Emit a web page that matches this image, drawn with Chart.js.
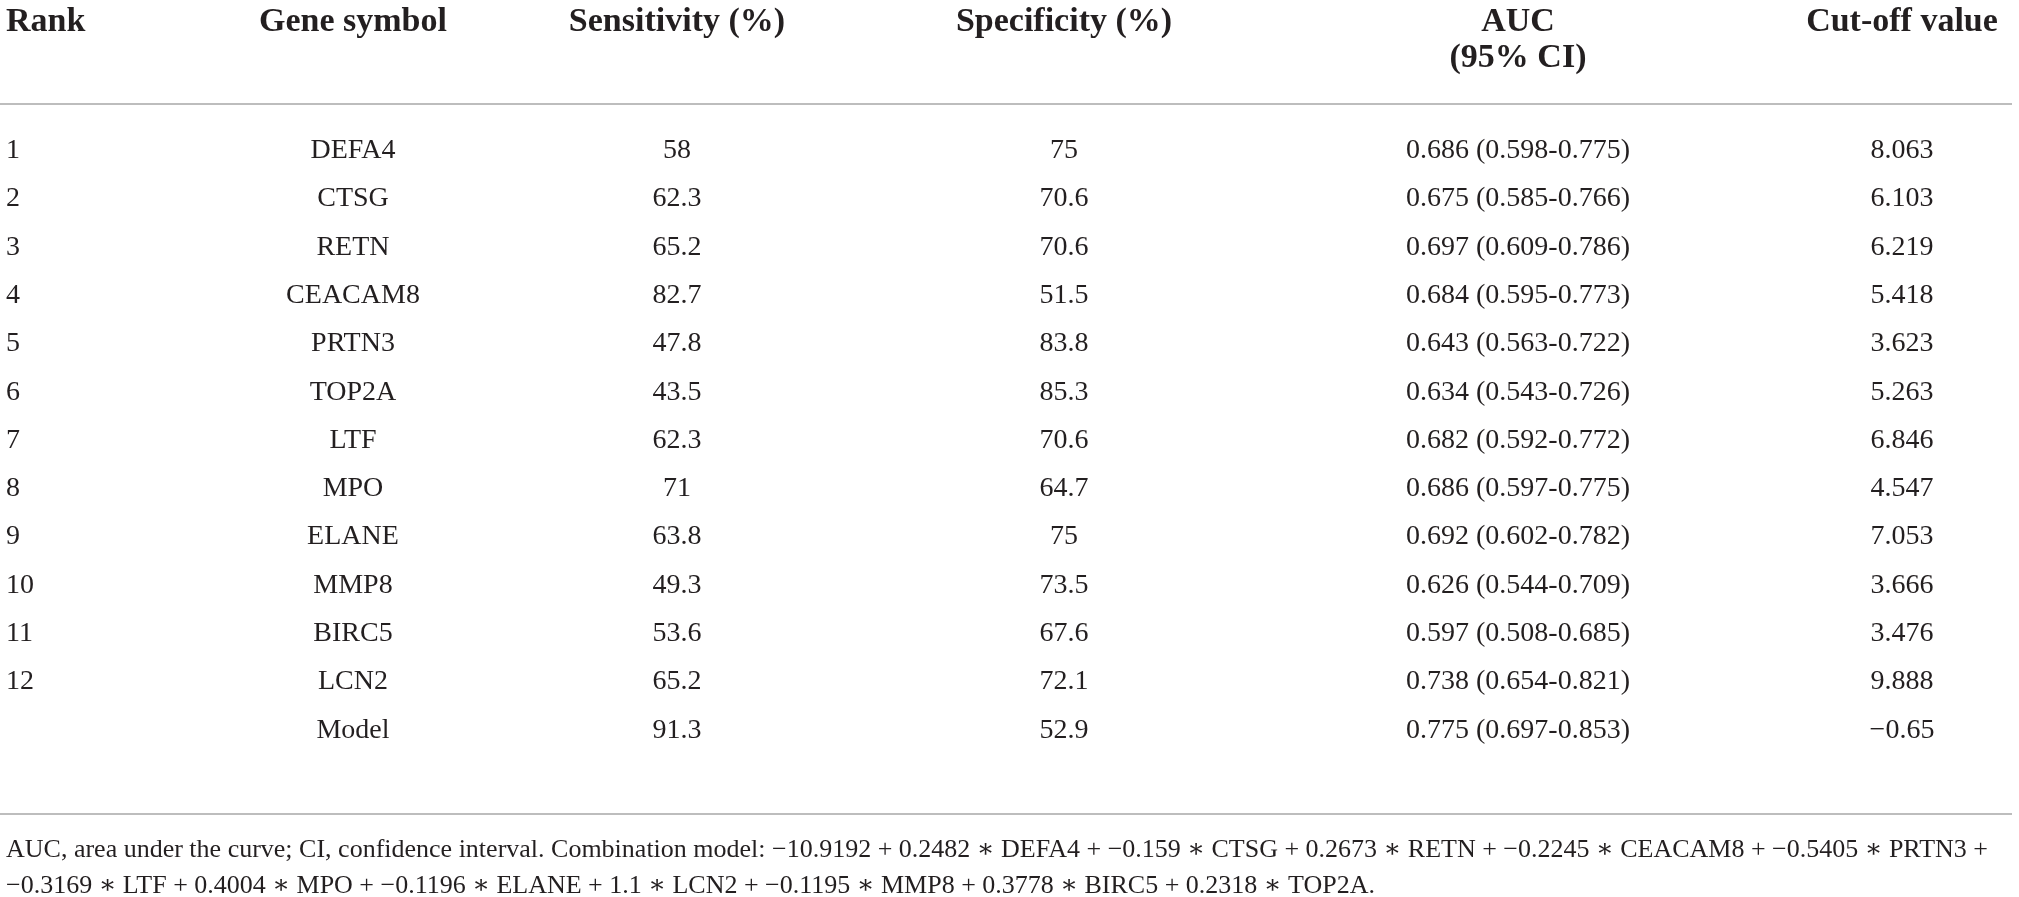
<!DOCTYPE html>
<html>
<head>
<meta charset="utf-8">
<script src="https://cdn.jsdelivr.net/npm/chart.js@4.4.1/dist/chart.umd.min.js"></script>
<style>
  html, body { margin: 0; padding: 0; background: #fff; }
  #wrap { width: 2019px; height: 897px; position: relative; }
</style>
</head>
<body>
<div id="wrap"><canvas id="tableChart"></canvas></div>
<script>
// table values
const ranks = ["1", "2", "3", "4", "5", "6", "7", "8", "9", "10", "11", "12", ""];
const genes = ["DEFA4", "CTSG", "RETN", "CEACAM8", "PRTN3", "TOP2A", "LTF", "MPO", "ELANE", "MMP8", "BIRC5", "LCN2", "Model"];
const sensitivity = [58, 62.3, 65.2, 82.7, 47.8, 43.5, 62.3, 71, 63.8, 49.3, 53.6, 65.2, 91.3];
const specificity = [75, 70.6, 70.6, 51.5, 83.8, 85.3, 70.6, 64.7, 75, 73.5, 67.6, 72.1, 52.9];
const auc = [0.686, 0.675, 0.697, 0.684, 0.643, 0.634, 0.682, 0.686, 0.692, 0.626, 0.597, 0.738, 0.775];
const aucLow = [0.598, 0.585, 0.609, 0.595, 0.563, 0.543, 0.592, 0.597, 0.602, 0.544, 0.508, 0.654, 0.697];
const aucHigh = [0.775, 0.766, 0.786, 0.773, 0.722, 0.726, 0.772, 0.775, 0.782, 0.709, 0.685, 0.821, 0.853];
const cutoff = [8.063, 6.103, 6.219, 5.418, 3.623, 5.263, 6.846, 4.547, 7.053, 3.666, 3.476, 9.888, -0.65];

const headers = [["Rank"], ["Gene symbol"], ["Sensitivity (%)"], ["Specificity (%)"], ["AUC", "(95% CI)"], ["Cut-off value"]];
const footnotes = [
  "AUC, area under the curve; CI, confidence interval. Combination model: \u221210.9192 + 0.2482 \u2217 DEFA4 + \u22120.159 \u2217 CTSG + 0.2673 \u2217 RETN + \u22120.2245 \u2217 CEACAM8 + \u22120.5405 \u2217 PRTN3 +",
  "\u22120.3169 \u2217 LTF + 0.4004 \u2217 MPO + \u22120.1196 \u2217 ELANE + 1.1 \u2217 LCN2 + \u22120.1195 \u2217 MMP8 + 0.3778 \u2217 BIRC5 + 0.2318 \u2217 TOP2A."
];

// layout (x in px-like units, y in row units)
const colX = [6, 353, 677, 1064, 1518, 1902];
const colAlign = ["left", "center", "center", "center", "center", "center"];
const headerY = [-2.66, -1.92];
const topRuleY = -0.965;
const bottomRuleY = 13.73;
const footY = [14.48, 15.23];
const textColor = "#231f20";
const serif = "'Liberation Serif', 'DejaVu Serif', serif";

const fmt = v => String(v).replace("-", "\u2212");

const columns = [
  ranks,
  genes,
  sensitivity.map(fmt),
  specificity.map(fmt),
  auc.map((a, i) => a.toFixed(3) + " (" + aucLow[i].toFixed(3) + "-" + aucHigh[i].toFixed(3) + ")"),
  cutoff.map(fmt)
];

const datasets = columns.map((texts, c) => ({
  label: headers[c].join(" "),
  texts: texts,
  data: texts.map((t, i) => ({x: colX[c], y: i})),
  pointRadius: 0,
  showLine: false
}));

const tablePlugin = {
  id: "tableText",
  afterDatasetsDraw(chart) {
    const ctx = chart.ctx;
    const sx = chart.scales.x;
    const sy = chart.scales.y;
    ctx.save();
    ctx.fillStyle = textColor;
    ctx.textBaseline = "middle";

    // header
    ctx.font = "bold 34px " + serif;
    headers.forEach((lines, c) => {
      ctx.textAlign = colAlign[c];
      lines.forEach((t, k) => {
        ctx.fillText(t, sx.getPixelForValue(colX[c]), sy.getPixelForValue(headerY[k]));
      });
    });

    // rules
    ctx.strokeStyle = "#bdbdbd";
    ctx.lineWidth = 2;
    [topRuleY, bottomRuleY].forEach(r => {
      const py = Math.round(sy.getPixelForValue(r));
      ctx.beginPath();
      ctx.moveTo(sx.getPixelForValue(0), py);
      ctx.lineTo(sx.getPixelForValue(2012), py);
      ctx.stroke();
    });

    // cells
    ctx.font = "28px " + serif;
    chart.data.datasets.forEach((ds, c) => {
      ctx.textAlign = colAlign[c];
      chart.getDatasetMeta(c).data.forEach((el, i) => {
        ctx.fillText(ds.texts[i], el.x, el.y);
      });
    });

    // footnote
    ctx.font = "26px " + serif;
    ctx.textAlign = "left";
    footnotes.forEach((t, k) => {
      ctx.fillText(t, sx.getPixelForValue(colX[0]), sy.getPixelForValue(footY[k]));
    });
    ctx.restore();
  }
};

new Chart("tableChart", {
  type: "scatter",
  data: {datasets: datasets},
  options: {
    responsive: true,
    maintainAspectRatio: false,
    animation: false,
    layout: {padding: 0},
    plugins: {legend: {display: false}, tooltip: {enabled: false}},
    scales: {
      x: {type: "linear", min: 0, max: 2019, display: false},
      y: {type: "linear", min: -3.118, max: 15.45, reverse: true, display: false}
    }
  },
  plugins: [tablePlugin]
});
</script>
</body>
</html>
